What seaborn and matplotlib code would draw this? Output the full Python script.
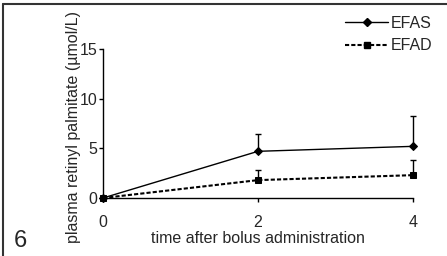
import numpy as np
import matplotlib
matplotlib.use("Agg")
import matplotlib.pyplot as plt
import pandas as pd
import seaborn as sns
from matplotlib.lines import Line2D

# data
time_h = [0, 2, 4]
efas_mean = [0.0, 4.7, 5.2]
efas_err = [0.0, 1.7, 3.1]
efad_mean = [0.0, 1.8, 2.3]
efad_err = [0.0, 1.0, 1.5]

sns.set_style("ticks")
plt.rcParams['font.family'] = ['Liberation Sans', 'DejaVu Sans']

df = pd.DataFrame({
    "time": time_h * 2,
    "value": efas_mean + efad_mean,
    "group": ["EFAS"] * 3 + ["EFAD"] * 3,
})

FS = 11.5
fig = plt.figure(figsize=(4.47, 2.56), dpi=100)
ax = fig.add_axes([103 / 447, 1 - 198 / 256, 310 / 447, 149 / 256])

sns.lineplot(data=df, x="time", y="value", hue="group", style="group",
             palette={"EFAS": "black", "EFAD": "black"},
             dashes={"EFAS": "", "EFAD": (2, 1)},
             markers={"EFAS": "D", "EFAD": "s"},
             ax=ax, legend=False, clip_on=False)
for ln, lw, ms in zip(ax.lines, [1.0, 1.5], [4, 4.5]):
    ln.set_linewidth(lw)
    ln.set_markersize(ms)
    ln.set_markeredgecolor("black")

# one-sided error bars (upper only)
for m, e in [(efas_mean, efas_err), (efad_mean, efad_err)]:
    eb = ax.errorbar(time_h[1:], m[1:], yerr=[np.zeros(2), e[1:]],
                     fmt="none", ecolor="black", elinewidth=1,
                     capsize=2.5, capthick=1)
    for art in eb.lines[1] + eb.lines[2]:
        art.set_clip_on(False)

ax.set_xlim(0, 4)
ax.set_ylim(0, 15)
ax.set_xticks([0, 2, 4])
ax.set_yticks([0, 5, 10, 15])
ax.tick_params(axis="both", labelsize=FS, length=3, width=1, color="black")
ax.tick_params(axis="x", pad=9)
ax.tick_params(axis="y", pad=1)
sns.despine(ax=ax)
for s in ["left", "bottom"]:
    ax.spines[s].set_linewidth(1)
    ax.spines[s].set_color("black")

ax.set_xlabel("time after bolus administration", fontsize=FS, labelpad=1)
ax.set_ylabel("plasma retinyl palmitate (\u00b5mol/L)", fontsize=FS)
ax.yaxis.set_label_coords(-0.072, 0.475)

handles = [
    Line2D([], [], color="black", lw=1.0, marker="D", ms=4),
    Line2D([], [], color="black", lw=1.5, ls=(0, (2, 1)), marker="s", ms=4.5),
]
fig.legend(handles, ["EFAS", "EFAD"], loc="upper left",
           bbox_to_anchor=(345 / 447, 1 - 16 / 256), frameon=False,
           fontsize=FS, handlelength=2.7, handletextpad=0.15,
           labelspacing=0.45, borderpad=0, borderaxespad=0)

fig.text(20 / 447, 1 - 241 / 256, "6", fontsize=17, ha="center", va="center")

# frame around the panel (only top and left edges visible in crop)
fig.add_artist(Line2D([3 / 447, 1], [1 - 4 / 256, 1 - 4 / 256],
                      transform=fig.transFigure, color="#333333", lw=1.5))
fig.add_artist(Line2D([3 / 447, 3 / 447], [0, 1 - 4 / 256],
                      transform=fig.transFigure, color="#333333", lw=1.5))

fig.savefig("out.png", dpi=100)
